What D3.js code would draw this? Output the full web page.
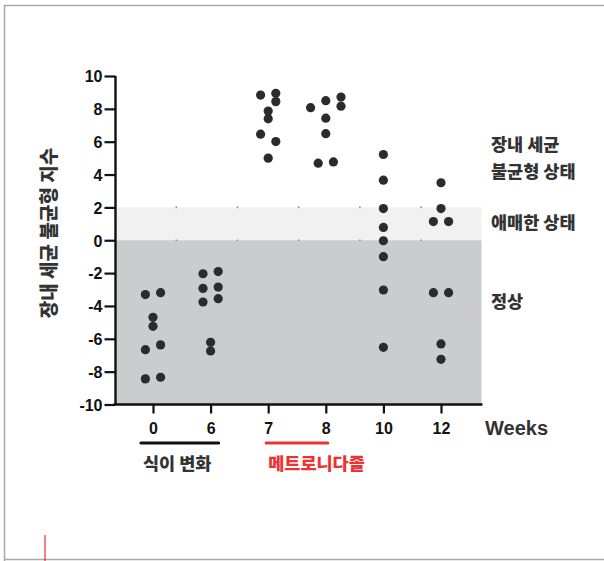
<!DOCTYPE html>
<html><head><meta charset="utf-8">
<script src="https://cdn.jsdelivr.net/npm/d3@7"></script>
<style>
html,body{margin:0;padding:0;background:#fff;}
svg{display:block;}
</style></head>
<body>
<script>
// ---- data ----
const weeks = ["0","6","7","8","10","12"];
const yTicks = [10,8,6,4,2,0,-2,-4,-6,-8,-10];
// values per week, with jitter column index (-2..2)
const week0  = [-3.31,-3.19,-4.69,-5.24,-6.66,-6.37,-8.44,-8.34];
const week0c = [-1,1,0,0,-1,1,-1,1];
const week6  = [-2.04,-1.91,-2.93,-2.85,-3.76,-3.56,-6.21,-6.74];
const week6c = [-1,1,-1,1,-1,1,0,0];
const week7  = [8.84,8.95,8.44,7.87,7.39,6.46,6.01,5.00];
const week7c = [-1,1,1,0,0,-1,1,0];
const week8  = [8.07,8.50,8.72,8.16,7.43,6.49,4.69,4.77];
const week8c = [-2,0,2,2,0,0,-1,1];
const week10 = [5.22,3.66,1.93,0.78,-0.03,-1.00,-3.03,-6.52];
const week10c= [0,0,0,0,0,0,0,0];
const week12 = [3.50,1.93,1.14,1.14,-3.19,-3.19,-6.31,-7.25];
const week12c= [0,0,-1,1,-1,1,0,0];
const zoneLabels = [["장내 세균","불균형 상태"],["애매한 상태"],["정상"]];
const groupLabels = ["식이 변화","메트로니다졸"];
const groupFrom = ["0","7"];
const groupTo = ["6","8"];

const seriesVals = [week0,week6,week7,week8,week10,week12];
const seriesCols = [week0c,week6c,week7c,week8c,week10c,week12c];
const points = [];
seriesVals.forEach((arr,i)=>arr.forEach((v,j)=>points.push({w:weeks[i],v:v,c:seriesCols[i][j]})));

const W=604,H=561;
const KR="'Noto Sans CJK KR','Noto Sans CJK JP',sans-serif";
const LAT="'Liberation Sans',Arial,sans-serif";
const svg=d3.select("body").append("svg").attr("width",W).attr("height",H);

// frame
svg.append("path").attr("d",`M4.5,${H} L4.5,5.5 L${W},5.5`).attr("fill","none").attr("stroke","#a9a9a9").attr("stroke-width",1.5);
svg.append("line").attr("x1",4.5).attr("x2",W).attr("y1",559.5).attr("y2",559.5).attr("stroke","#a9a9a9").attr("stroke-width",1.5);
svg.append("line").attr("x1",45).attr("x2",45).attr("y1",535).attr("y2",H).attr("stroke","#ee2a2a").attr("stroke-width",1.2);

const plotL=115.5, plotR=482.5;
const y=d3.scaleLinear().domain([-10,10]).range([404.5,76]);
const x=d3.scalePoint().domain(weeks).range([153,441]);
const jitter=7.6;

// zones
svg.append("rect").attr("x",plotL).attr("width",plotR-plotL-1)
  .attr("y",y(2)).attr("height",y(0)-y(2)).attr("fill","#f1f1f1");
svg.append("rect").attr("x",plotL).attr("width",plotR-plotL-1)
  .attr("y",y(0)).attr("height",y(-10)-y(0)).attr("fill","#cbcccd");

// dotted grid at 2 and 0
[2,0].forEach(v=>{
  svg.append("line").attr("x1",175.5).attr("x2",422).attr("y1",y(v)).attr("y2",y(v))
    .attr("stroke","#8a8a8a").attr("stroke-width",1.6).attr("stroke-dasharray","1.6 59.6");
});

// points
svg.append("g").selectAll("circle").data(points).join("circle")
  .attr("cx",d=>x(d.w)+d.c*jitter).attr("cy",d=>y(d.v)).attr("r",4.6).attr("fill","#2b2b2b");

// y axis
const ya=svg.append("g").attr("transform",`translate(${plotL},0)`)
  .call(d3.axisLeft(y).tickValues(yTicks).tickSize(11).tickPadding(2).tickFormat(d3.format("d")));
ya.select(".domain").attr("stroke","#111").attr("stroke-width",2.4).attr("d",`M0,${y(10)}V${y(-10)}`);
ya.selectAll(".tick line").attr("stroke","#111").attr("stroke-width",2.2);
ya.selectAll(".tick text").attr("fill","#111").attr("font-family",LAT)
  .attr("font-weight","bold").attr("font-size","16px").attr("dy","0.36em")
  .text(d=>d<0?"-"+Math.abs(d):d);

// x axis
const xa=svg.append("g").attr("transform",`translate(0,${y(-10)})`)
  .call(d3.axisBottom(x).tickSize(9).tickPadding(9));
xa.select(".domain").attr("stroke","#111").attr("stroke-width",2.4).attr("d",`M${plotL-2},0H${plotR}`);
xa.selectAll(".tick line").attr("stroke","#111").attr("stroke-width",2.2);
xa.selectAll(".tick text").attr("fill","#111").attr("font-family",LAT)
  .attr("font-weight","bold").attr("font-size","16px");

svg.append("text").attr("x",485).attr("y",435).text("Weeks")
  .attr("font-family",LAT).attr("font-weight","bold")
  .attr("font-size","20px").attr("fill","#333");

// y label
svg.append("text").attr("transform",`translate(56,233) rotate(-90)`).attr("text-anchor","middle")
  .attr("font-family",KR).attr("font-weight","900")
  .attr("font-size","19px").attr("fill","#333").text("장내 세균 불균형 지수");

// zone labels
const zoneY=[[145,172],[223],[302]];
zoneLabels.forEach((lines,i)=>{
  lines.forEach((t,j)=>{
    svg.append("text").attr("x",491).attr("y",zoneY[i][j]).attr("dy","0.35em").text(t)
      .attr("font-family",KR).attr("font-weight","900")
      .attr("font-size","17.5px").attr("fill","#333");
  });
});

// groups (bracket under the weeks, label left aligned under it)
const groupColor=["#111111","#ec3232"], groupText=["#333333","#ec3232"];
const padL=[12,2], padR=[8,2];
groupLabels.forEach((lab,i)=>{
  const x1=x(groupFrom[i])-padL[i], x2=x(groupTo[i])+padR[i];
  svg.append("line").attr("x1",x1).attr("x2",x2).attr("y1",443).attr("y2",443)
    .attr("stroke",groupColor[i]).attr("stroke-width",3.2).attr("stroke-linecap","round");
  svg.append("text").attr("x",x1+2).attr("y",470).text(lab)
    .attr("font-family",KR).attr("font-weight","900")
    .attr("font-size","17.5px").attr("fill",groupText[i]);
});
</script>
</body></html>
